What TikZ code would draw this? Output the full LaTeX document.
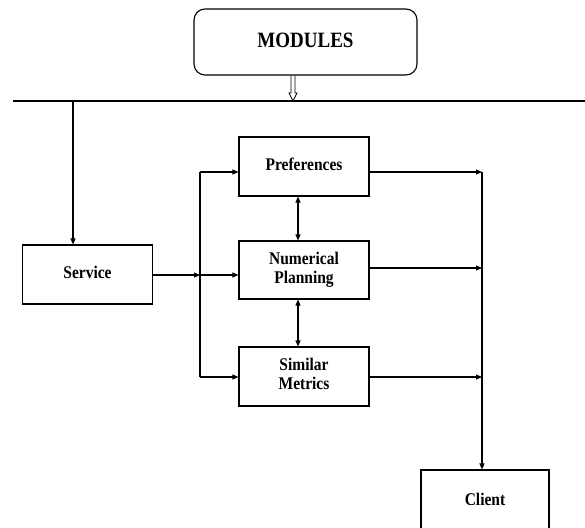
\documentclass[tikz,border=0pt]{standalone}
\usepackage{fontspec}
\usepackage{graphicx}
\setmainfont{Liberation Serif}
\usetikzlibrary{arrows.meta,calc}
\newcommand{\tallt}[1]{\scalebox{1}[1.15]{\begin{tabular}{@{}c@{}}#1\end{tabular}}}
\begin{document}
\begin{tikzpicture}[x=1pt,y=-1pt,
  box/.style={draw, line width=1.1pt, minimum width=130pt, minimum height=59pt, inner sep=0pt,
    align=center, font=\fontsize{15.5}{16.5}\selectfont\bfseries},
  conn/.style={line width=1.1pt, -{Triangle[length=6pt,width=5pt]}},
  biconn/.style={line width=1.1pt, {Triangle[length=6pt,width=5pt]}-{Triangle[length=6pt,width=5pt]}},
  plain/.style={line width=1.1pt}]
\useasboundingbox (0,0) rectangle (585,527);
\clip (0,0) rectangle (585,527);
% top module box
\node[draw, line width=1.1pt, rounded corners=11pt, minimum width=223pt, minimum height=66pt,
  font=\fontsize{19}{22}\selectfont\bfseries] (mod) at (305.5,42) {\tallt{MODULES}};
% bus line
\coordinate (busL) at (13,101);
\coordinate (busR) at (585,101);
\draw[plain] (busL) -- (busR);
% hollow arrow from module to bus
\coordinate (busM) at (293,101);
\coordinate (modB) at (mod.south -| busM);
\draw[line width=0.8pt] ($(modB)+(-2,0)$) -- ($(busM)+(-2,-8)$) -- ($(busM)+(-4,-8)$) -- (busM)
  -- ($(busM)+(4,-8)$) -- ($(busM)+(2,-8)$) -- ($(modB)+(2,0)$);
% boxes
\node[box] (service) at (87.5,274.5) {\tallt{Service}};
\node[box] (pref) at (304,166.5) {\tallt{Preferences}};
\node[box, minimum height=58pt] (num) at (304,270) {\tallt{Numerical\\Planning}};
\node[box] (sim) at (304,376.5) {\tallt{Similar\\Metrics}};
\node[box, minimum width=128pt, minimum height=64pt] (client) at (485,502) {\raisebox{6pt}{\tallt{Client}}};
% bus to service
\coordinate (busS) at (73,101);
\draw[conn] (busS) -- (busS |- service.north);
% service to junction
\coordinate (jS) at (200,275);
\coordinate (jT) at (200,172);
\coordinate (jB) at (200,377);
\draw[conn] (service.east |- jS) -- (jS);
\draw[conn] (jS) -- (num.west |- jS);
\draw[plain] (jT) -- (jB);
\draw[conn] (jT) -- (pref.west |- jT);
\draw[conn] (jB) -- (sim.west |- jB);
% between modules
\draw[biconn] ([xshift=-6pt]pref.south) -- ([xshift=-6pt]num.north);
\draw[biconn] ([xshift=-6pt]num.south) -- ([xshift=-6pt]sim.north);
% right collector
\coordinate (rT) at (482,172);
\coordinate (rM) at (482,268);
\coordinate (rB) at (482,377);
\draw[conn] (pref.east |- rT) -- (rT);
\draw[conn] (num.east |- rM) -- (rM);
\draw[conn] (sim.east |- rB) -- (rB);
\draw[conn] (rT) -- (rT |- client.north);
\end{tikzpicture}
\end{document}
